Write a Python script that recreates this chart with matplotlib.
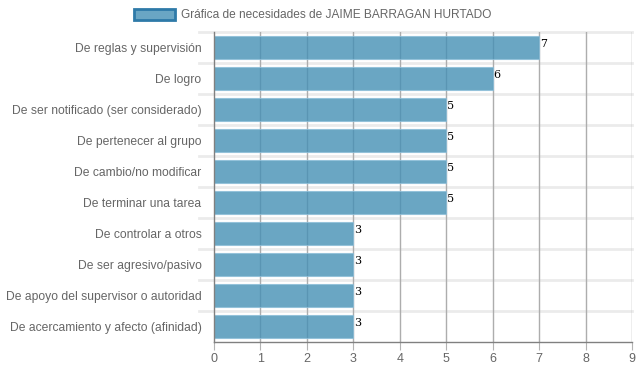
import matplotlib.pyplot as plt
from matplotlib.patches import Patch

plt.rcParams['font.family'] = ['Liberation Sans', 'DejaVu Sans']

categories = [
    'De reglas y supervisión',
    'De logro',
    'De ser notificado (ser considerado)',
    'De pertenecer al grupo',
    'De cambio/no modificar',
    'De terminar una tarea',
    'De controlar a otros',
    'De ser agresivo/pasivo',
    'De apoyo del supervisor o autoridad',
    'De acercamiento y afecto (afinidad)',
]
values = [7, 6, 5, 5, 5, 5, 3, 3, 3, 3]
x_ticks = list(range(0, 10))
legend_label = 'Gráfica de necesidades de JAIME BARRAGAN HURTADO'

fig = plt.figure(figsize=(6.39, 3.72), dpi=100)
ax = fig.add_axes([214 / 639, 1 - 342 / 372, 418 / 639, 310 / 372])

n = len(categories)
ypos = list(range(n))
ax.barh(ypos, values, height=0.72, color=(69 / 255, 144 / 255, 181 / 255), alpha=0.8,
        edgecolor=(0.55, 0.75, 0.85), linewidth=0.8, zorder=2)

ax.set_xlim(0, 9)
ax.set_ylim(n - 0.5, -0.5)
ax.set_xticks(x_ticks)
ax.set_yticks(ypos)
ax.set_yticklabels(categories)

# grid lines: vertical at ticks, horizontal at category boundaries
for x in x_ticks[1:]:
    ax.axvline(x, color=(0.68, 0.68, 0.68), linewidth=1, zorder=1)
for b in range(n):
    ax.axhline(b - 0.5, xmin=-0.035, color=(0.92, 0.92, 0.92), linewidth=2, zorder=0, clip_on=False)

for s in ['top', 'right']:
    ax.spines[s].set_visible(False)
ax.spines['left'].set_color((0.5, 0.5, 0.5))
ax.spines['bottom'].set_color((0.5, 0.5, 0.5))
ax.spines['left'].set_linewidth(1)
ax.spines['bottom'].set_linewidth(1)

ax.tick_params(axis='y', length=0, pad=9, labelsize=8.7, labelcolor=(0.4, 0.4, 0.4))
ax.tick_params(axis='x', length=6, color=(0.7, 0.7, 0.7), pad=2, labelsize=9, labelcolor=(0.4, 0.4, 0.4))

for y, v in zip(ypos, values):
    ax.text(v + 0.02, y - 0.1, str(v), ha='left', va='center', fontsize=8,
            family='DejaVu Serif', color='black', zorder=3)

handle = Patch(facecolor=(106 / 255, 166 / 255, 196 / 255), edgecolor=(46 / 255, 122 / 255, 168 / 255), linewidth=2)
fig.legend([handle], [legend_label], loc='upper center', bbox_to_anchor=(0.489, 1.005), frameon=False,
           fontsize=8.6, handlelength=3.4, handleheight=1.0, handletextpad=0.5,
           labelcolor=(0.4, 0.4, 0.4))

fig.savefig('out.png', dpi=100)
